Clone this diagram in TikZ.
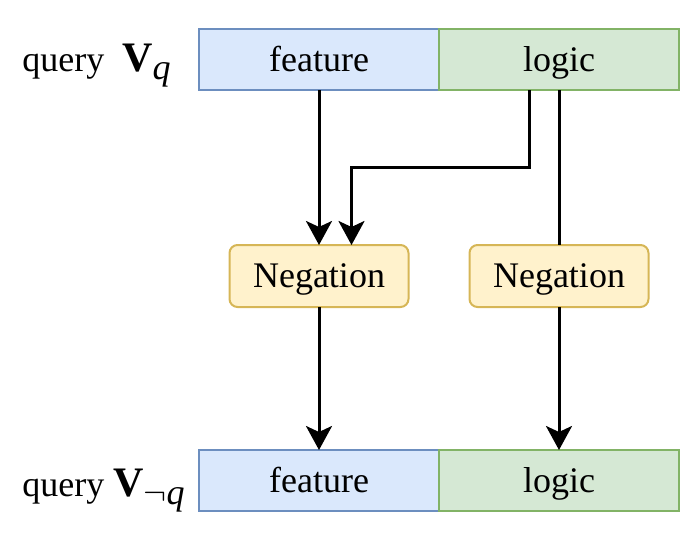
\documentclass[tikz,border=0pt]{standalone}
\usepackage{fontspec}
\setmainfont{Liberation Serif}
\usepackage{xcolor}
\usetikzlibrary{arrows.meta, positioning}
\definecolor{featfill}{HTML}{DAE8FC}
\definecolor{featline}{HTML}{6C8EBF}
\definecolor{logicfill}{HTML}{D5E8D4}
\definecolor{logicline}{HTML}{82B366}
\definecolor{negfill}{HTML}{FFF2CC}
\definecolor{negline}{HTML}{D6B656}
\newcommand{\bigV}{{\fontsize{21}{25}\selectfont\bfseries V}}

\begin{document}
\begin{tikzpicture}[x=0.5pt, y=-0.5pt, font=\fontsize{18}{22}\selectfont,
    seg/.style={draw, line width=1pt, outer sep=0pt, inner sep=0pt,
        text height=1.2em, text depth=0.05em,
        minimum width=120pt, minimum height=30.5pt},
    featbox/.style={seg, draw=featline, fill=featfill},
    logicbox/.style={seg, draw=logicline, fill=logicfill},
    negbox/.style={draw=negline, fill=negfill, line width=1pt, outer sep=0pt,
        inner sep=0pt, text height=1.2em, text depth=0.05em,
        rounded corners=4pt, minimum width=89.5pt, minimum height=31pt},
    arr/.style={line width=1.5pt, -{Stealth[length=12pt, width=13pt, inset=3pt]}},
    link/.style={line width=1.5pt}]
    \useasboundingbox (0,0) rectangle (684,546);

    % query V_q
    \node[featbox] (qfeat) at (319,59.5) {feature};
    \node[logicbox, right=0pt of qfeat] (qlogic) {logic};
    \node[anchor=base west, inner sep=0pt] (vq) at (22,71)
        {query\ \ \bigV\raisebox{-4pt}{\textit{q}}};

    % Negation
    \node[negbox, below=77.5pt of qfeat] (negf) {Negation};
    \node[negbox, below=77.5pt of qlogic] (negl) {Negation};

    % query V_{\neg q}
    \node[featbox, below=71.5pt of negf] (nfeat) {feature};
    \node[logicbox, right=0pt of nfeat] (nlogic) {logic};
    \node[anchor=base west, inner sep=0pt] (vnq) at (22,496)
        {query \bigV\raisebox{-4pt}{$\neg$\textit{q}}};

    % connectors
    \coordinate (turn) at (529,167);
    \draw[arr] (qfeat.south) -- (negf.north);
    \draw[arr] (qlogic.south -| turn) -- (turn) -| ([xshift=16.25pt]negf.north);
    \draw[link] (qlogic.south) -- (negl.north);
    \draw[arr] (negf.south) -- (nfeat.north);
    \draw[arr] (negl.south) -- (nlogic.north);
\end{tikzpicture}
\end{document}
